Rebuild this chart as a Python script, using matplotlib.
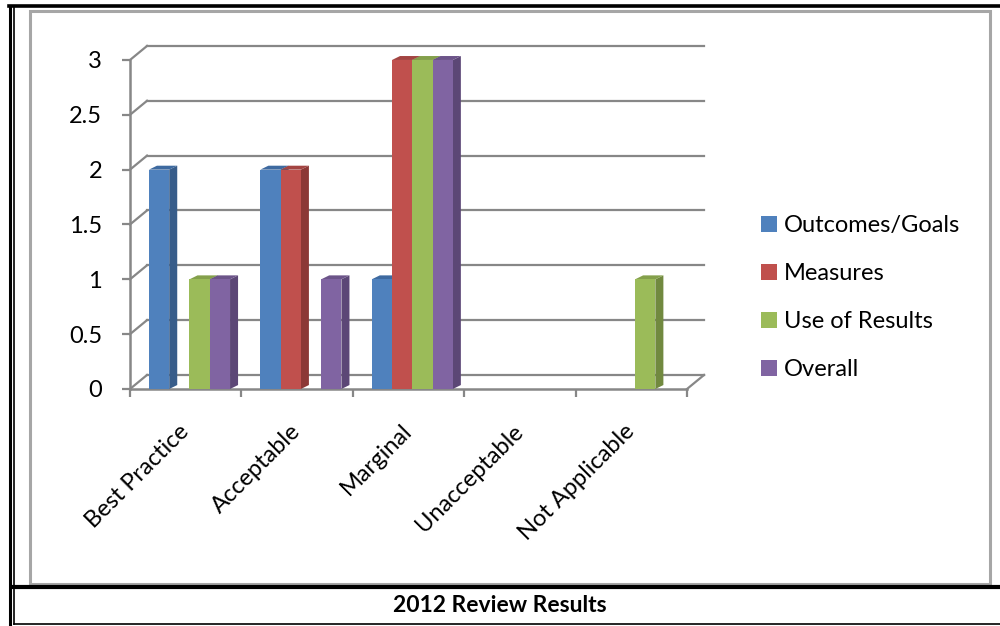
import matplotlib
matplotlib.use('Agg')
import matplotlib.pyplot as plt
from matplotlib.patches import Polygon, Rectangle
from matplotlib.lines import Line2D

plt.rcParams['font.family'] = ['Lato', 'DejaVu Sans']

categories = ['Best Practice', 'Acceptable', 'Marginal', 'Unacceptable', 'Not Applicable']
series_names = ['Outcomes/Goals', 'Measures', 'Use of Results', 'Overall']
outcomes = [2, 2, 1, 0, 0]
measures = [0, 2, 3, 0, 0]
use_of_results = [1, 0, 3, 0, 1]
overall = [1, 1, 3, 0, 0]
y_ticks = [0, 0.5, 1, 1.5, 2, 2.5, 3]
y_labels = ['0', '0.5', '1', '1.5', '2', '2.5', '3']
title = '2012 Review Results'

front_colors = ['#4f81bd', '#c0504d', '#9bbb59', '#8064a2']
side_colors = ['#385d8a', '#8c3836', '#71893f', '#5c4776']
top_colors = ['#3e6aa0', '#a34442', '#84a04b', '#6c5489']
grid_color = '#878787'

# depth of the back wall and of each bar, in data units
wall_dx, wall_dy = 0.153, 0.128
bar_dx, bar_dy = 0.072, 0.036
bar_w = 0.182
bar_start = 0.17

fig = plt.figure(figsize=(10, 6.26), dpi=100)
ax = fig.add_axes([0.13, 0.3786, 0.557, 0.5256])
ax.set_xlim(0, len(categories))
ax.set_ylim(0, 3)

# back wall gridlines and left wall edges
for v in y_ticks:
    ax.plot([wall_dx, len(categories) + wall_dx], [v + wall_dy, v + wall_dy],
            color=grid_color, lw=1.6, clip_on=False, zorder=1)
    ax.plot([0, wall_dx], [v, v + wall_dy], color=grid_color, lw=1.6,
            clip_on=False, zorder=1)
ax.plot([len(categories), len(categories) + wall_dx], [0, wall_dy],
        color=grid_color, lw=1.6, clip_on=False, zorder=1)

# bars with a fake 3d side and top
all_series = [outcomes, measures, use_of_results, overall]
handles = []
for i in range(len(categories)):
    for k, vals in enumerate(all_series):
        v = vals[i]
        if v == 0:
            continue
        x = i + bar_start + k * bar_w
        z = 3 + i * 10 + k * 2
        side = Polygon([(x + bar_w, 0), (x + bar_w + bar_dx, bar_dy),
                        (x + bar_w + bar_dx, v + bar_dy), (x + bar_w, v)],
                       closed=True, fc=side_colors[k], ec='none', zorder=z,
                       clip_on=False)
        top = Polygon([(x, v), (x + bar_w, v), (x + bar_w + bar_dx, v + bar_dy),
                       (x + bar_dx, v + bar_dy)],
                      closed=True, fc=top_colors[k], ec='none', zorder=z,
                      clip_on=False)
        ax.add_patch(side)
        ax.add_patch(top)
        ax.bar(x, v, width=bar_w, align='edge', color=front_colors[k],
               zorder=z + 1, clip_on=False)

for k in range(len(series_names)):
    handles.append(Rectangle((0, 0), 1, 1, fc=front_colors[k], ec='none'))

for s in ['top', 'right']:
    ax.spines[s].set_visible(False)
for s in ['left', 'bottom']:
    ax.spines[s].set_color(grid_color)
    ax.spines[s].set_linewidth(1.8)
    ax.spines[s].set_zorder(2)

ax.set_yticks(y_ticks)
ax.set_yticklabels(y_labels)
ax.tick_params(axis='y', direction='out', length=6, width=1.6,
               color=grid_color, labelsize=17, pad=14)

ax.set_xticks(range(len(categories) + 1))
ax.set_xticklabels([])
ax.set_xticks([i + 0.5 for i in range(len(categories))], minor=True)
ax.set_xticklabels(categories, minor=True, rotation=45, ha='right',
                   va='center', rotation_mode='anchor')
ax.tick_params(axis='x', which='major', direction='out', length=6,
               width=1.6, color=grid_color)
ax.tick_params(axis='x', which='minor', length=0, labelsize=17, pad=28)

fig.legend(handles, series_names, loc='upper left',
           bbox_to_anchor=(0.752, 1 - 206 / 626), frameon=False,
           fontsize=17, handlelength=0.64, handleheight=0.64,
           handletextpad=0.3, labelspacing=1.14, borderaxespad=0)

# frames around the chart
fig.add_artist(Rectangle((0.030, 1 - 584 / 626), 0.960, 573 / 626,
                         transform=fig.transFigure, fill=False,
                         ec='#a6a6a6', lw=2.2))
fig.add_artist(Line2D([0.010, 0.010], [0, 1 - 6 / 626], transform=fig.transFigure,
                      color='black', lw=2.2))
fig.add_artist(Line2D([0.0135, 0.0135], [2 / 626, 1 - 6 / 626],
                      transform=fig.transFigure, color='black', lw=1.2))
fig.add_artist(Line2D([0.009, 1], [1 - 6 / 626, 1 - 6 / 626],
                      transform=fig.transFigure, color='black', lw=2.6))
fig.add_artist(Line2D([0.0135, 1], [1 - 587 / 626, 1 - 587 / 626],
                      transform=fig.transFigure, color='black', lw=3))
fig.add_artist(Line2D([0.0135, 1], [2 / 626, 2 / 626],
                      transform=fig.transFigure, color='black', lw=1.2))

fig.text(0.5, 1 - 606 / 626, title, ha='center', va='center',
         fontsize=16.5, fontweight='bold')

fig.savefig('out.png', dpi=100)
